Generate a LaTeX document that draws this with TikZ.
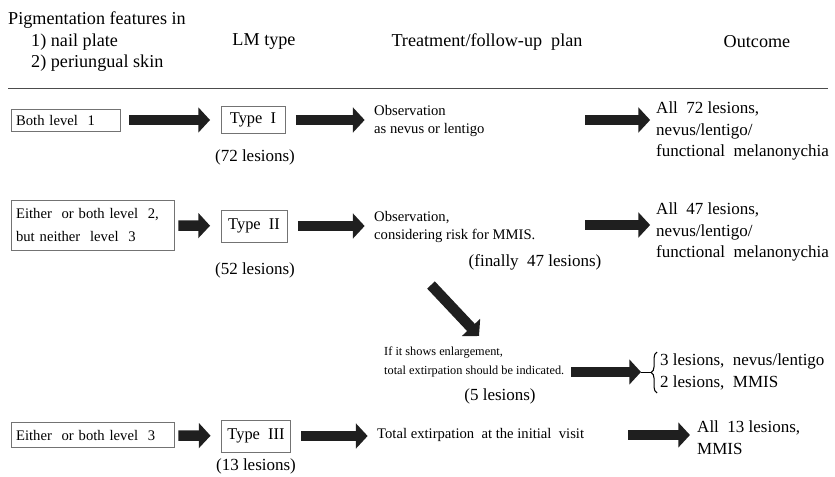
\documentclass[tikz,border=0pt]{standalone}
\usepackage{fontspec}
\setmainfont{Liberation Serif}
\usetikzlibrary{arrows.meta,decorations.pathreplacing}

\tikzset{
  headtext/.style={font=\fontsize{15.5}{18.5}\selectfont, inner sep=0pt},
  outtext/.style={font=\fontsize{14.5}{18.5}\selectfont, inner sep=0pt, anchor=west, align=left},
  plantext/.style={font=\fontsize{12.5}{15.5}\selectfont, inner sep=0pt, anchor=west, align=left},
  countlabel/.style={font=\fontsize{14.5}{17}\selectfont, inner sep=0pt},
  featbox/.style={draw=black!55, line width=0.7pt, font=\fontsize{12.5}{20}\selectfont,
    align=left, anchor=west, inner xsep=4pt, inner ysep=2pt},
  typebox/.style={draw=black!55, line width=0.7pt, font=\fontsize{14}{17}\selectfont,
    minimum height=0.8cm},
  bigarrow/.style={black!88, line width=9pt, -{Triangle[length=10pt,width=21pt]}}
}

\begin{document}
\begin{tikzpicture}[x=0.03cm, y=-0.03cm]
  \useasboundingbox (0,0) rectangle (835,477);

  % column headings
  \node[headtext, anchor=west] (hfeat) at (8,20) {Pigmentation features in};
  \node[headtext, anchor=west] (hnail) at (31,42) {1) nail plate};
  \node[headtext, anchor=west] (hskin) at (31,63) {2) periungual skin};
  \node[headtext] (htype) at (264,42) {LM type};
  \node[headtext] (hplan) at (487,42) {Treatment/follow-up\ \ plan};
  \node[headtext] (hout) at (757,42) {Outcome};
  \coordinate (rulel) at (8,88);
  \coordinate (ruler) at (828,88);
  \draw[black!70, line width=0.8pt] (rulel) -- (ruler);

  % type I
  \node[featbox, text width=2.99cm, minimum height=0.66cm] (feat1) at (11,120) {Both level\ \ 1};
  \node[typebox, minimum width=1.92cm] (type1) at (253,120) {Type\ \ I};
  \node[countlabel] (count1) at (255,157) {(72 lesions)};
  \node[plantext] (plan1) at (374,121) {Observation\\as nevus or lentigo};
  \node[outtext] (out1) at (656,131) {All\ \ 72 lesions,\\nevus/lentigo/\\functional\ \ melanonychia};
  \coordinate (go1) at (585,120);
  \draw[bigarrow, shorten <=7pt, shorten >=9pt] (feat1) -- (type1);
  \draw[bigarrow, shorten <=9pt, shorten >=8pt] (type1) -- (plan1.west |- type1);
  \draw[bigarrow, shorten >=5pt] (go1) -- (go1 -| out1.west);

  % type II
  \node[featbox, text width=4.61cm, minimum height=1.5cm] (feat2) at (11,225)
    {Either\ \ or both level\ \ 2,\\but neither\ \ level\ \ 3};
  \node[typebox, minimum width=1.98cm, minimum height=0.96cm] (type2) at (254,226) {Type\ \ II};
  \node[countlabel] (count2) at (255,270) {(52 lesions)};
  \node[plantext] (plan2) at (374,227) {Observation,\\considering risk for MMIS.};
  \node[countlabel] (final2) at (535,262) {(finally\ \ 47 lesions)};
  \node[outtext] (out2) at (656,232) {All\ \ 47 lesions,\\nevus/lentigo/\\functional\ \ melanonychia};
  \coordinate (go2) at (585,225);
  \draw[bigarrow, shorten <=3pt, shorten >=9pt] (feat2) -- (type2);
  \draw[bigarrow, shorten <=9pt, shorten >=8pt] (type2) -- (plan2.west |- type2);
  \draw[bigarrow, shorten >=5pt] (go2) -- (go2 -| out2.west);

  % enlargement
  \coordinate (down1) at (431,285);
  \coordinate (down2) at (479,336);
  \draw[bigarrow] (down1) -- (down2);
  \node[plantext, font=\fontsize{10.5}{17}\selectfont] (plan3) at (384,362)
    {If it shows enlargement,\\total extirpation should be indicated.};
  \node[countlabel] (count3) at (500,396) {(5 lesions)};
  \coordinate (go3) at (571,372);
  \coordinate (tip3) at (641,372);
  \coordinate (brace3) at (652,372);
  \draw[bigarrow] (go3) -- (tip3);
  \draw[line width=0.8pt] (tip3) -- (brace3);
  \draw[line width=0.9pt, decorate, decoration={brace, amplitude=5pt}] (657,393) -- (657,352);
  \node[outtext] (out3) at (660,372) {3 lesions,\ \ nevus/lentigo\\2 lesions,\ \ MMIS};

  % type III
  \node[featbox, text width=4.61cm, minimum height=0.75cm] (feat3) at (11,435) {Either\ \ or both level\ \ 3};
  \node[typebox, minimum width=2.07cm, minimum height=0.96cm] (type3) at (256,436) {Type\ \ III};
  \node[countlabel] (count3b) at (256,466) {(13 lesions)};
  \node[plantext] (plan4) at (377,435) {Total extirpation\ \ at the initial\ \ visit};
  \node[outtext] (out4) at (697,438) {All\ \ 13 lesions,\\MMIS};
  \coordinate (go4) at (628,435);
  \draw[bigarrow, shorten <=3pt, shorten >=9pt] (feat3) -- (type3);
  \draw[bigarrow, shorten <=9pt, shorten >=8pt] (type3) -- (plan4.west |- type3);
  \draw[bigarrow, shorten >=6pt] (go4) -- (go4 -| out4.west);
\end{tikzpicture}
\end{document}
